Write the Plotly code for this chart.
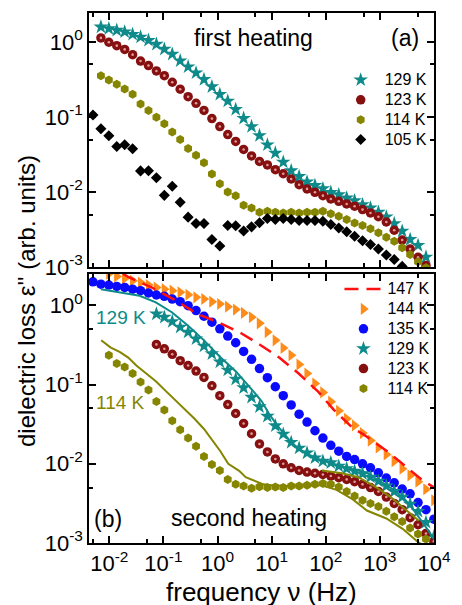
import plotly.graph_objects as go

# ---------------- data ----------------
# measurement frequencies (Hz), shared grid
freq = [0.00499, 0.00700, 0.00981, 0.01374, 0.01925, 0.02698, 0.03781, 0.05297, 0.07421,
        0.1040, 0.1457, 0.2042, 0.2861, 0.4009, 0.5617, 0.7870, 1.103, 1.545, 2.165, 3.034,
        4.251, 5.957, 8.347, 11.69, 16.39, 22.96, 32.17, 45.08, 63.17, 88.51, 124.0, 173.8,
        243.5, 341.2, 478.1, 669.9, 938.7, 1315, 1843, 2582, 3619, 5070, 7105, 9954]

# (a) first heating
a129 = [1.58, 1.50, 1.43, 1.36, 1.26, 1.16, 1.05, 0.931, 0.800, 0.686, 0.560, 0.466, 0.387,
        0.316, 0.253, 0.200, 0.163, 0.126, 0.0959, 0.0745, 0.0565, 0.0425, 0.0330, 0.0250,
        0.0192, 0.0161, 0.0136, 0.0122, 0.0111, 0.00991, 0.00923, 0.00832, 0.00767, 0.00679,
        0.00614, 0.00537, 0.00466, 0.00380, 0.00301, 0.00233, 0.00194, 0.00136]
a123 = [1.13, 0.989, 0.891, 0.794, 0.676, 0.556, 0.484, 0.410, 0.355, 0.290, 0.234, 0.186,
        0.152, 0.122, 0.0951, 0.0745, 0.0582, 0.0471, 0.0369, 0.0302, 0.0255, 0.0229, 0.0198,
        0.0175, 0.0149, 0.0125, 0.0110, 0.00991, 0.00893, 0.00807, 0.00752, 0.00693, 0.00646,
        0.00582, 0.00525, 0.00468, 0.00398, 0.00309, 0.00229, 0.00174, 0.00135, 0.00105]
a114 = [0.354, 0.310, 0.272, 0.236, 0.201, 0.149, 0.122, 0.0993, 0.0813, 0.0631, 0.0501,
        0.0380, 0.0309, 0.0245, 0.0173, 0.0129, 0.0100, 0.00893, 0.00665, 0.00614, 0.00537,
        0.00553, 0.00537, 0.00526, 0.00537, 0.00526, 0.00537, 0.00537, 0.00553, 0.00511,
        0.00475, 0.00430, 0.00387, 0.00357, 0.00323, 0.00286, 0.00250, 0.00221, 0.00181,
        0.00147, 0.00118, 0.000980]
a105 = [0.106, 0.0697, 0.0562, 0.0404, 0.0425, 0.0376, 0.0191, 0.0192, 0.0155, 0.00902,
        0.0119, 0.00729, 0.00462, 0.00380, 0.00380, 0.00233, 0.00191, 0.00358, 0.00355,
        0.00302, 0.00343, 0.00389, 0.00443, 0.00430, 0.00443, 0.00430, 0.00416, 0.00416,
        0.00416, 0.00408, 0.00368, 0.00331, 0.00295, 0.00257, 0.00224, 0.00200, 0.00174,
        0.00145, 0.00126, 0.00102]

# (b) second heating
b144 = [2.51, 2.31, 2.18, 2.04, 1.94, 1.80, 1.68, 1.60, 1.53, 1.46, 1.36, 1.26, 1.20, 1.11,
        1.04, 0.962, 0.883, 0.802, 0.708, 0.592, 0.459, 0.361, 0.289, 0.234, 0.179, 0.138,
        0.103, 0.0796, 0.0608, 0.0466, 0.0369, 0.0305, 0.0244, 0.0196, 0.0161, 0.0131,
        0.0108, 0.00865, 0.00713, 0.00594, 0.00476, 0.00347]
b135 = [1.98, 1.85, 1.80, 1.73, 1.68, 1.60, 1.53, 1.43, 1.35, 1.30, 1.20, 1.11, 0.991, 0.857,
        0.728, 0.612, 0.505, 0.409, 0.337, 0.262, 0.208, 0.159, 0.122, 0.0938, 0.0724, 0.0553,
        0.0423, 0.0336, 0.0261, 0.0211, 0.0171, 0.0144, 0.0124, 0.0113, 0.00998, 0.00889,
        0.00769, 0.00661, 0.00575, 0.00479, 0.00417, 0.00324, 0.00263, 0.00200]
b129 = [0.778, 0.708, 0.624, 0.530, 0.459, 0.378, 0.306, 0.245, 0.193, 0.152, 0.117, 0.0912,
        0.0692, 0.0525, 0.0398, 0.0302, 0.0237, 0.0186, 0.0158, 0.0137, 0.0119, 0.0108,
        0.0103, 0.00933, 0.00871, 0.00807, 0.00748, 0.00679, 0.00603, 0.00525, 0.00447,
        0.00380, 0.00309, 0.00251, 0.00182, 0.00120]
b123 = [0.321, 0.282, 0.241, 0.200, 0.174, 0.148, 0.123, 0.0966, 0.0724, 0.0558, 0.0431,
        0.0323, 0.0240, 0.0178, 0.0141, 0.0115, 0.0100, 0.00891, 0.00822, 0.00785, 0.00759,
        0.00733, 0.00700, 0.00667, 0.00635, 0.00594, 0.00550, 0.00501, 0.00447, 0.00380,
        0.00316, 0.00263, 0.00209, 0.00170, 0.00132, 0.00105]
b114 = [0.234, 0.184, 0.167, 0.138, 0.108, 0.0853, 0.0610, 0.0479, 0.0348, 0.0269, 0.0211,
        0.0166, 0.0124, 0.00979, 0.00824, 0.00635, 0.00550, 0.00525, 0.00490, 0.00513,
        0.00501, 0.00509, 0.00501, 0.00525, 0.00525, 0.00537, 0.00550, 0.00562, 0.00550,
        0.00509, 0.00447, 0.00393, 0.00347, 0.00316, 0.00288, 0.00251, 0.00214, 0.00187,
        0.00155, 0.00130, 0.00112]

# lines (b)
f147 = [0.0178, 0.0229, 0.0631, 0.162, 0.427, 1.0, 2.69, 6.17, 13.8, 31.6, 72.4, 141, 316,
        501, 1479, 3802, 5888, 10000]
e147 = [2.51, 2.26, 1.66, 1.17, 0.776, 0.617, 0.447, 0.316, 0.219, 0.138, 0.0813, 0.0479,
        0.0282, 0.0234, 0.0138, 0.00813, 0.00631, 0.00501]
f129l = [0.0070, 0.0158, 0.0363, 0.0724, 0.143, 0.283, 0.562, 1.117, 2.21, 4.40, 6.61, 9.20,
         13.9, 20.9, 31.6, 47.9, 71.9, 109, 164, 245, 372, 562, 851, 1279, 1932, 2911, 4395,
         6607, 10000]
e129l = [1.60, 1.46, 1.32, 1.09, 0.817, 0.556, 0.361, 0.223, 0.145, 0.0851, 0.0610, 0.0414,
         0.0282, 0.0201, 0.0154, 0.0131, 0.0115, 0.0105, 0.00962, 0.00891, 0.00832, 0.00776,
         0.00646, 0.00550, 0.00457, 0.00355, 0.00251, 0.00170, 0.00112]
f114l = [0.00708, 0.0105, 0.0158, 0.0224, 0.0316, 0.0479, 0.0724, 0.110, 0.162, 0.245, 0.372,
         0.562, 0.794, 1.12, 1.58, 2.51, 3.31, 5.01, 7.08, 10.0, 20.0, 39.8, 79.4, 158, 316,
         575, 1318, 2630, 5129, 10000]
e114l = [0.363, 0.295, 0.257, 0.219, 0.174, 0.138, 0.110, 0.0832, 0.0646, 0.0479, 0.0372,
         0.0275, 0.0200, 0.0145, 0.0100, 0.00813, 0.00676, 0.00603, 0.00550, 0.00537, 0.00525,
         0.00537, 0.00537, 0.00468, 0.00355, 0.00257, 0.00204, 0.00151, 0.00102, 0.000794]
f114h = [85.1, 200, 398, 871, 1585, 2818, 3981, 5248]
e114h = [0.00822, 0.00759, 0.00676, 0.00501, 0.00380, 0.00275, 0.00229, 0.00191]

x_major = [0.01, 0.1, 1, 10, 100, 1000, 10000]
x_major_text = ["10<sup>-2</sup>", "10<sup>-1</sup>", "10<sup>0</sup>", "10<sup>1</sup>",
                "10<sup>2</sup>", "10<sup>3</sup>", "10<sup>4</sup>"]
x_minor = [0.005, 0.05, 0.5, 5, 50, 500, 5000]
y_major = [0.001, 0.01, 0.1, 1]
y_major_text = ["10<sup>-3</sup>", "10<sup>-2</sup>", "10<sup>-1</sup>", "10<sup>0</sup>"]
y_minor = [0.005, 0.05, 0.5]

# ---------------- style ----------------
TEAL = "#0e8a8a"
DRED = "#861010"
OLIVE = "#858500"
ORANGE = "#ff8c1a"
BLUE = "#0a0aff"
RED = "#ff1010"
FONT = "Liberation Sans, Arial, sans-serif"

def lname(t):
    return "<span style='font-size:16px'>" + t + "</span>"

fig = go.Figure()
rank = [0]

def nextrank():
    rank[0] += 1
    return rank[0]

def sc(x, y, name, sym, color, size, xa, ya, legend):
    fig.add_trace(go.Scatter(x=x, y=y, mode="markers", name=lname(name), xaxis=xa, yaxis=ya,
                             legend=legend, legendrank=nextrank(),
                             marker=dict(symbol=sym, color=color, size=size,
                                         line=dict(width=0))))

def spheres(x, y, name, xa, ya, legend):
    fig.add_trace(go.Scatter(x=x, y=y, mode="markers", name=lname(name), xaxis=xa, yaxis=ya,
                             legend=legend, legendrank=nextrank(),
                             marker=dict(symbol="circle", color=DRED, size=9.5,
                                         line=dict(width=0))))
    fig.add_trace(go.Scatter(x=x, y=y, mode="markers", xaxis=xa, yaxis=ya, showlegend=False,
                             hoverinfo="skip",
                             marker=dict(symbol="circle", color="rgba(255,200,200,0.75)",
                                         size=2.6, line=dict(width=0))))

# panel (a)
sc(freq[1:1 + len(a129)], a129, "129 K", "star", TEAL, 11, "x", "y", "legend")
spheres(freq[1:1 + len(a123)], a123, "123 K", "x", "y", "legend")
sc(freq[1:1 + len(a114)], a114, "114 K", "hexagon", OLIVE, 9, "x", "y", "legend")
sc(freq[0:len(a105)], a105, "105 K", "diamond", "black", 8.5, "x", "y", "legend")

# panel (b)
r147 = nextrank()
sc(freq[2:2 + len(b144)], b144, "144 K", "triangle-right", ORANGE, 10.5, "x2", "y2", "legend2")
sc(freq[0:len(b135)], b135, "135 K", "circle", BLUE, 9.5, "x2", "y2", "legend2")
sc(freq[8:8 + len(b129)], b129, "129 K", "star", TEAL, 11, "x2", "y2", "legend2")
spheres(freq[8:8 + len(b123)], b123, "123 K", "x2", "y2", "legend2")
sc(freq[2:2 + len(b114)], b114, "114 K", "hexagon", OLIVE, 9, "x2", "y2", "legend2")
for fx, fy, col in [(f129l, e129l, TEAL), (f114l, e114l, OLIVE), (f114h, e114h, OLIVE)]:
    fig.add_trace(go.Scatter(x=fx, y=fy, mode="lines", xaxis="x2", yaxis="y2",
                             showlegend=False, line=dict(color=col, width=2)))
fig.add_trace(go.Scatter(x=f147, y=e147, mode="lines", name=lname("147 K"), xaxis="x2",
                         yaxis="y2", legend="legend2", legendrank=r147,
                         line=dict(color=RED, width=2.5, dash="14px,8px")))

def xaxis(anchor, labels):
    return dict(type="log", range=[-2.375, 4.0], anchor=anchor,
                showline=True, linecolor="black", linewidth=1.5, mirror="ticks",
                ticks="inside", ticklen=7, tickwidth=1.5, tickcolor="black",
                tickvals=x_major, ticktext=x_major_text, showticklabels=labels,
                ticklabeloverflow="allow",
                showgrid=False, zeroline=False,
                tickfont=dict(size=22, color="black", family=FONT),
                minor=dict(ticks="inside", ticklen=4, tickwidth=1.5, tickcolor="black",
                           tickvals=x_minor, showgrid=False))

def yaxis(domain, top, anchor):
    return dict(type="log", range=[-3, top], domain=domain, anchor=anchor,
                showline=True, linecolor="black", linewidth=1.5, mirror="ticks",
                ticks="inside", ticklen=7, tickwidth=1.5, tickcolor="black",
                tickvals=y_major, ticktext=y_major_text, showgrid=False, zeroline=False,
                ticklabeloverflow="allow",
                tickfont=dict(size=22, color="black", family=FONT),
                minor=dict(ticks="inside", ticklen=4, tickwidth=1.5, tickcolor="black",
                           tickvals=y_minor, showgrid=False))

ann = []
def text(t, x, y, size, color="black", angle=0):
    ann.append(dict(text=t, x=x, y=y, xref="paper", yref="paper", showarrow=False,
                    xanchor="center", yanchor="middle", textangle=angle,
                    font=dict(size=size, color=color, family=FONT)))

text("first heating", 0.476, 0.952, 23)
text("(a)", 0.915, 0.952, 23)
text("(b)", 0.056, 0.045, 23)
text("second heating", 0.463, 0.047, 23)
text("129 K", 0.0924, 0.4254, 19, TEAL)
text("114 K", 0.0924, 0.2656, 19, OLIVE)
text("frequency ν (Hz)", 0.499, -0.092, 26)
text("dielectric loss ε'' (arb. units)", -0.179, 0.457, 24, angle=-90)

leg = dict(xanchor="left", yanchor="top", bgcolor="rgba(0,0,0,0)", itemwidth=38,
           font=dict(size=13, color="black", family=FONT), tracegroupgap=0,
           traceorder="normal")

fig.update_layout(
    width=462, height=605,
    margin=dict(l=89, r=16, t=11, b=62),
    paper_bgcolor="white", plot_bgcolor="white",
    font=dict(family=FONT, color="black"),
    xaxis=xaxis("y", False),
    yaxis=yaxis([0.5207, 1.0], 0.385, "x"),
    xaxis2=xaxis("y2", True),
    yaxis2=yaxis([0.0, 0.5075], 0.395, "x2"),
    legend=dict(leg, x=0.718, y=0.902),
    legend2=dict(leg, x=0.726, y=0.5075),
    annotations=ann,
)

fig.write_html("out.html", config={"displayModeBar": False},
               post_script="document.body.style.margin='0px';")
